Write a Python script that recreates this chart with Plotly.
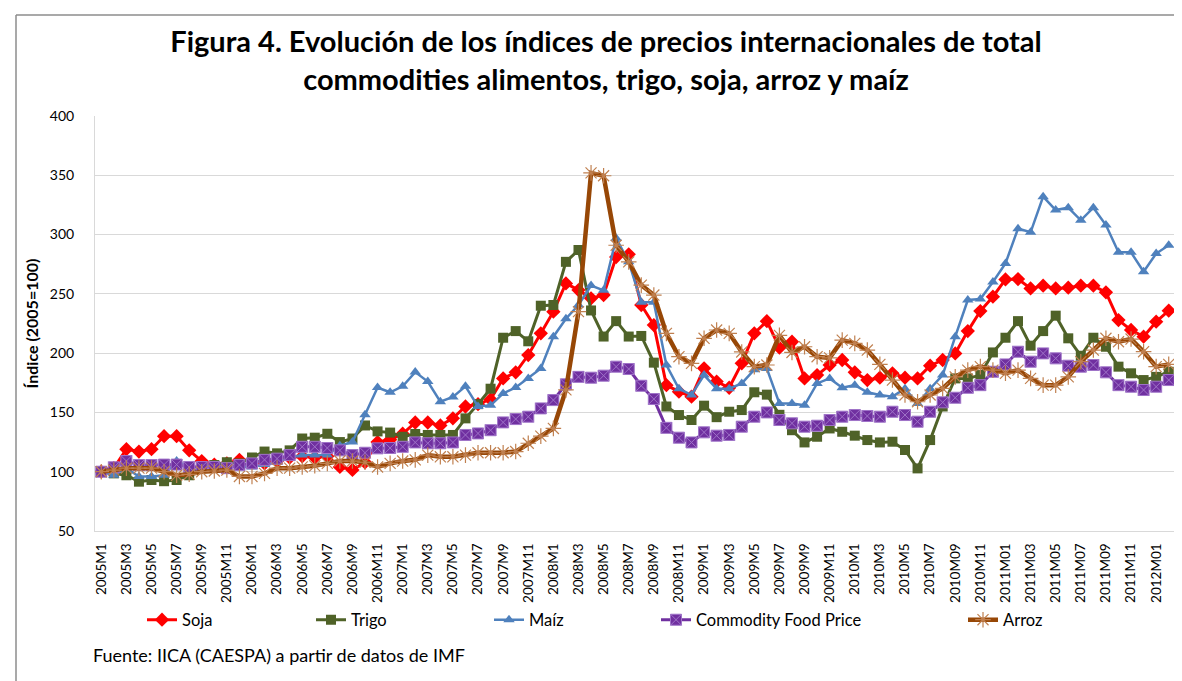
import plotly.graph_objects as go

# ---------------- data ----------------
categories = (
    ["2005M%d" % m for m in range(1, 13)]
    + ["2006M%d" % m for m in range(1, 13)]
    + ["2007M%d" % m for m in range(1, 13)]
    + ["2008M%d" % m for m in range(1, 13)]
    + ["2009M%d" % m for m in range(1, 13)]
    + ["2010M%d" % m for m in range(1, 9)]
    + ["2010M09", "2010M10", "2010M11", "2010M12"]
    + ["2011M%02d" % m for m in range(1, 13)]
    + ["2012M01", "2012M02"]
)

soja = [100, 103, 119, 117, 119, 130, 130, 118, 109, 106, 107, 110,
        109, 107, 109, 112, 113, 112, 113, 104, 101.5, 108, 125, 127,
        132, 141.5, 141.5, 139, 145, 155, 157, 161, 178.7, 183.8, 198.4, 216.7,
        235, 258.8, 253.2, 246.2, 249, 281, 283.3, 240.6, 223.7, 173, 167.5, 163.3,
        187.2, 176, 170.8, 191.4, 216.7, 227, 204.6, 209.6, 178.7, 181.5, 190, 194.2,
        183.8, 177.3, 179.3, 183, 179.3, 178.7, 189.4, 194.2, 199.8, 218.6, 235.5, 247.6,
        262.2, 262.5, 254.6, 256.9, 254.6, 255.2, 256.9, 256.9, 251.3, 227.9, 219.5, 213.9,
        226.5, 235.8]

trigo = [100, 98.6, 97, 91.6, 93, 92, 93, 97, 104, 105.6, 108, 107,
         112, 117, 115.5, 118, 128, 128.7, 132, 125, 128, 139, 134, 133,
         129.5, 131.8, 131, 131, 131, 145, 157, 170, 213, 218.6, 210, 240,
         240.6, 277, 287, 236, 214, 227, 214, 214.5, 192, 155, 147.8, 143.6,
         155.7, 146, 150.6, 152, 167, 165, 148, 135, 124.7, 129.5, 136.5, 133.7,
         130.4, 126.7, 124.7, 125.3, 118.3, 102.8, 126.7, 155, 178.7, 178.7, 181.5, 200.6,
         213, 227, 206.3, 218.6, 231.6, 212.5, 197.8, 213, 205.4, 188.6, 183, 177.3,
         180, 184.3]

maiz = [100, 97, 103, 96, 96, 97, 109, 104, 104, 105, 104, 104,
        104, 106, 108, 112, 114, 114, 114, 122, 125, 148, 171, 167,
        172, 184, 176, 159, 163, 172, 155, 156, 166, 171, 178.7, 187,
        213.9, 229, 240.6, 257, 253, 296.8, 277, 243, 243, 190, 170, 164.7,
        181.5, 170, 170, 174.5, 186, 187, 157.6, 157.6, 156, 174.5, 178.7, 170.8,
        173, 167, 164.7, 163.3, 170, 157.6, 170, 181.5, 213.9, 244.8, 245.6, 260,
        275.7, 305, 301.9, 332, 320.7, 322.7, 312, 322.7, 308, 285, 285, 268.7,
        284, 291]

food = [100, 103.7, 109, 105.6, 105.6, 106, 106, 104, 104, 104, 103, 105.6,
        107, 110, 111, 114, 121, 121, 120, 118, 114, 116, 119.7, 120,
        121, 124.7, 124, 124, 124.7, 131, 132.3, 135, 141.6, 144.4, 146.4, 153.4,
        160.4, 173.7, 180, 179.3, 181, 188.6, 186.6, 172.5, 161.3, 137, 128.7, 124.7,
        133.2, 130.4, 131, 138, 146.4, 150, 143.6, 140.8, 138, 138.8, 143.6, 146.4,
        147.8, 147, 146.4, 150.6, 147.8, 142.2, 150.6, 158.5, 162.4, 170.8, 173, 184.3,
        190.5, 201.2, 192.8, 199.8, 195.6, 189.4, 188.6, 190, 183.8, 173, 171.7, 168.9,
        171.7, 177.3]

arroz = [100, 101.4, 103, 103, 103, 100, 97, 97.8, 100, 100.6, 101.4, 96,
         96, 98.6, 103, 103, 104, 105, 107, 109, 109, 108, 104, 107,
         109, 110, 114, 112.6, 112.6, 114, 116, 116, 116, 117, 124, 130,
         136.5, 169, 235, 352, 349.6, 291, 277, 257.4, 249, 216.7, 197, 191.4,
         212.5, 219.5, 216.7, 201, 188.6, 190, 215, 200.6, 205.4, 197, 196, 211,
         208.2, 202.6, 190.5, 177.3, 164.7, 159, 164.7, 170.3, 180, 185.7, 188.6, 185.7,
         183, 185.7, 178.7, 173, 173, 180, 192.8, 202.6, 212.5, 209.6, 211.9, 201.2,
         188.6, 190.5]

y_ticks = [50, 100, 150, 200, 250, 300, 350, 400]

# ---------------- figure ----------------
W, H = 1182, 681
L, R, T, B = 87, 15, 108, 158
pw, ph = W - L - R, H - T - B


def px_x(p):
    return (p - L) / pw


def px_y(p):
    return (H - B - p) / ph


FONT = "Lato"

fig = go.Figure()

series = [
    ("Soja", soja, dict(color="#FF0000", width=3),
     dict(symbol="diamond", size=11, color="#FF0000", line=dict(width=0))),
    ("Trigo", trigo, dict(color="#4F6228", width=3),
     dict(symbol="square", size=10, color="#4F6228", line=dict(width=0))),
    ("Maíz", maiz, dict(color="#4F81BD", width=2.5),
     dict(symbol="triangle-up", size=10, color="#4F81BD", line=dict(width=0))),
    ("Commodity Food Price", food, dict(color="#7030A0", width=3),
     dict(symbol="square-x", size=11, color="#7030A0", line=dict(width=1, color="#9F73C8"))),
    ("Arroz", arroz, dict(color="#974706", width=4.5),
     dict(symbol="asterisk-open", size=13, color="#C08050", line=dict(width=1.2, color="#C08050"))),
]

# x pixel where each legend label text starts
legend_text_x = [174, 343, 521, 688, 995]

for k, (name, vals, line, marker) in enumerate(series):
    lg = "legend" if k == 0 else "legend%d" % (k + 1)
    fig.add_trace(go.Scatter(
        x=categories, y=vals, name=name, mode="lines+markers",
        line=line, marker=marker, legend=lg,
    ))

layout_legends = {}
for k in range(5):
    key = "legend" if k == 0 else "legend%d" % (k + 1)
    layout_legends[key] = dict(
        x=px_x(legend_text_x[k] - 40), y=px_y(612), xref="paper", yref="paper",
        xanchor="left", yanchor="middle", orientation="h",
        font=dict(family=FONT, size=16.5, color="#000000"),
        bgcolor="rgba(0,0,0,0)", borderwidth=0, itemwidth=30,
    )

fig.update_layout(
    width=W, height=H,
    margin=dict(l=L, r=R, t=T, b=B),
    paper_bgcolor="white", plot_bgcolor="white",
    showlegend=True,
    title=dict(
        text="<b>Figura 4. Evolución de los índices de precios internacionales de total<br>"
             "commodities alimentos, trigo, soja, arroz y maíz</b>",
        x=598 / W, xanchor="center", xref="container",
        y=1 - 44 / H, yanchor="middle", yref="container",
        font=dict(family=FONT, size=29, color="#000000"),
    ),
    font=dict(family=FONT, color="#000000"),
    **layout_legends,
)

fig.update_xaxes(
    type="category", tickmode="array", tickvals=categories[::2], ticktext=categories[::2],
    tickangle=-90, tickfont=dict(family=FONT, size=13.5, color="#000000"),
    showgrid=False, showline=True, linecolor="#D9D9D9", linewidth=1,
    ticks="", ticklabelstandoff=6, range=[-0.5, len(categories) - 0.5],
)
fig.update_yaxes(
    range=[50, 400], tickmode="array", tickvals=y_ticks,
    tickfont=dict(family=FONT, size=14, color="#000000"),
    showgrid=True, gridcolor="#D9D9D9", gridwidth=1,
    showline=True, linecolor="#D9D9D9", linewidth=1, zeroline=False,
    ticks="", ticklabelstandoff=17,
    title=dict(text="<b>Índice (2005=100)</b>", font=dict(family=FONT, size=16, color="#000000"),
               standoff=7),
)

# footer
fig.add_annotation(
    text="Fuente: IICA (CAESPA) a partir de datos de IMF",
    x=px_x(83), y=px_y(647), xref="paper", yref="paper",
    xanchor="left", yanchor="middle", showarrow=False,
    font=dict(family=FONT, size=18, color="#000000"),
)

# chart-area border (left and top edges visible)
fig.add_shape(type="line", xref="paper", yref="paper",
              x0=px_x(8), x1=px_x(W + 5), y0=px_y(7), y1=px_y(7),
              line=dict(color="#8C8C8C", width=1.5))
fig.add_shape(type="line", xref="paper", yref="paper",
              x0=px_x(8), x1=px_x(8), y0=px_y(7), y1=px_y(H + 5),
              line=dict(color="#8C8C8C", width=1.5))

fig.write_html("out.html")
